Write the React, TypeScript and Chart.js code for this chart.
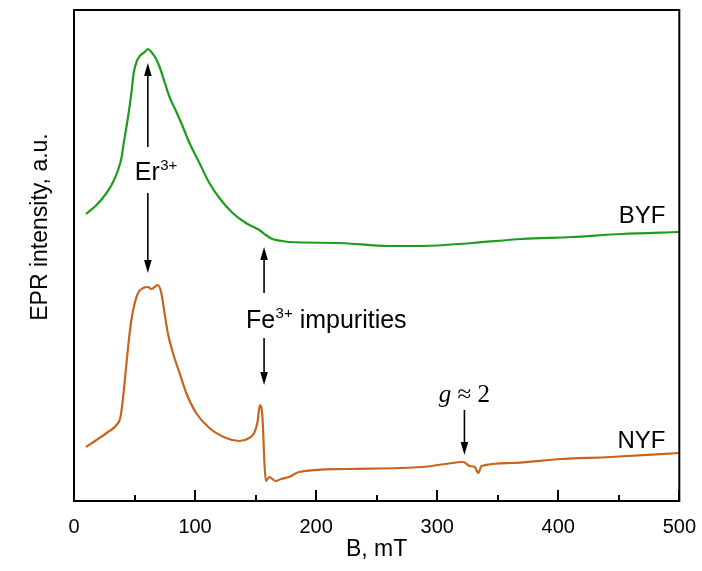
import React, { useEffect, useRef } from 'react';
import { Chart, registerables } from 'chart.js';

Chart.register(...registerables);

// ---- Data (B in mT, EPR intensity in arbitrary units) ----
const fieldBYF = [9.9, 18.6, 26.9, 32.3, 36.4, 39.2, 41.1, 43.3, 45.5, 47.4, 49.3, 51.6, 54.3, 58.4, 61.1, 63.9, 67.4, 70.7, 74.8, 78.9, 83.1, 88.6, 95.4, 103.6, 111.8, 120.1, 131, 142, 150, 153, 158.5, 163.9, 172.1, 177.6, 219, 260, 288, 329, 370, 411, 452, 500];
const intensityBYF = [287, 296, 308, 319, 331, 343, 358, 374, 391, 408, 428, 439, 445, 449, 452, 449, 443, 434, 419, 404, 393, 378, 358, 338, 318, 303, 288, 278, 273, 271, 266, 262, 260, 259, 258, 255, 255, 258, 262, 264, 267, 269];

const fieldNYF = [9.9, 18.6, 26.9, 35.1, 38.4, 40.6, 42.8, 44.7, 47.4, 50.2, 52.9, 57, 61.1, 63.9, 66.6, 69.3, 72.1, 74.8, 77.5, 81.7, 87.2, 92.7, 100.9, 111.8, 125.6, 136.5, 144.7, 148.8, 151.6, 153.5, 155.7, 157.3, 158.5, 161.2, 166.7, 171, 177.6, 185.9, 224.5, 287.5, 306.5, 321.5, 327, 331, 334, 336.5, 361, 402, 443, 500];
const intensityNYF = [54, 61, 68, 76, 84, 104, 131, 154, 181, 198, 208, 213, 214, 212, 214, 216, 208, 188, 168, 148, 128, 108, 88, 73, 63, 60, 63, 68, 79, 96, 83, 38, 20, 24, 20, 22, 24, 29, 32, 34, 37, 39, 35, 34, 28, 35, 38, 42, 44, 48];

const xMajorTicks = [0, 100, 200, 300, 400, 500];
const xMinorTicks = [50, 150, 250, 350, 450];

// Annotation arrows: x position (mT), tail and tip (a.u.)
const arrowX = [61, 61, 157, 157, 322.5];
const arrowFrom = [354, 308, 208, 163, 91];
const arrowTo = [438, 228, 254, 116, 46];

const SANS = '"Liberation Sans", Arial, sans-serif';
const SERIF = '"Liberation Serif", "Times New Roman", serif';
const GREEN = '#1e9c1e';
const ORANGE = '#c8641c';

const annotationPlugin = {
  id: 'eprAnnotations',
  afterDraw(chart: any) {
    const { ctx, chartArea } = chart;
    const xs = chart.scales.x;
    const ys = chart.scales.y;
    const X = (v: number) => xs.getPixelForValue(v);
    const Y = (v: number) => ys.getPixelForValue(v);
    ctx.save();

    // frame
    ctx.strokeStyle = '#000';
    ctx.lineWidth = 2;
    ctx.strokeRect(chartArea.left, chartArea.top, chartArea.right - chartArea.left, chartArea.bottom - chartArea.top);

    // inward tick marks
    ctx.beginPath();
    xMajorTicks.forEach((t) => {
      const px = Math.round(X(t));
      ctx.moveTo(px, chartArea.bottom);
      ctx.lineTo(px, chartArea.bottom - 11);
    });
    xMinorTicks.forEach((t) => {
      const px = Math.round(X(t));
      ctx.moveTo(px, chartArea.bottom);
      ctx.lineTo(px, chartArea.bottom - 6);
    });
    ctx.stroke();

    // arrows
    ctx.fillStyle = '#000';
    ctx.lineWidth = 1.6;
    arrowX.forEach((ax, i) => {
      const px = X(ax);
      const y1 = Y(arrowFrom[i]);
      const y2 = Y(arrowTo[i]);
      const dir = y2 > y1 ? 1 : -1;
      const head = 13;
      ctx.beginPath();
      ctx.moveTo(px, y1);
      ctx.lineTo(px, y2 - dir * head);
      ctx.stroke();
      ctx.beginPath();
      ctx.moveTo(px, y2);
      ctx.lineTo(px - 3.8, y2 - dir * head);
      ctx.lineTo(px + 3.8, y2 - dir * head);
      ctx.closePath();
      ctx.fill();
    });

    // texts
    ctx.fillStyle = '#000';
    ctx.textBaseline = 'alphabetic';
    ctx.textAlign = 'left';

    const drawSup = (base: string, sup: string, rest: string, x: number, y: number) => {
      ctx.font = `25px ${SANS}`;
      ctx.fillText(base, x, y);
      let w = ctx.measureText(base).width;
      ctx.font = `15px ${SANS}`;
      ctx.fillText(sup, x + w + 0.5, y - 10);
      w += ctx.measureText(sup).width + 0.5;
      if (rest) {
        ctx.font = `25px ${SANS}`;
        ctx.fillText(rest, x + w, y);
      }
    };
    drawSup('Er', '3+', '', X(50.2), Y(321));
    drawSup('Fe', '3+', ' impurities', X(142), Y(173));

    // g ≈ 2
    ctx.font = `italic 25px ${SERIF}`;
    const gw = ctx.measureText('g').width;
    ctx.font = `25px ${SERIF}`;
    const rw = ctx.measureText(' \u2248 2').width;
    const gx = X(322.5) - (gw + rw) / 2;
    ctx.font = `italic 25px ${SERIF}`;
    ctx.fillText('g', gx, Y(99));
    ctx.font = `25px ${SERIF}`;
    ctx.fillText(' \u2248 2', gx + gw, Y(99));

    // sample labels
    ctx.font = `24px ${SANS}`;
    ctx.textAlign = 'right';
    ctx.fillText('BYF', X(488.5), Y(278));
    ctx.fillText('NYF', X(488.5), Y(53));

    // y axis title
    ctx.save();
    ctx.translate(46.5, 227);
    ctx.rotate(-Math.PI / 2);
    ctx.textAlign = 'center';
    ctx.font = `23px ${SANS}`;
    ctx.fillText('EPR intensity, a.u.', 0, 0);
    ctx.restore();

    ctx.restore();
  },
};

export default function App() {
  const canvasRef = useRef<HTMLCanvasElement | null>(null);

  useEffect(() => {
    if (!canvasRef.current) return;
    const chart = new Chart(canvasRef.current, {
      type: 'line',
      data: {
        datasets: [
          {
            label: 'BYF',
            data: fieldBYF.map((x, i) => ({ x, y: intensityBYF[i] })),
            borderColor: GREEN,
            borderWidth: 2.2,
            pointRadius: 0,
            cubicInterpolationMode: 'monotone',
            fill: false,
          },
          {
            label: 'NYF',
            data: fieldNYF.map((x, i) => ({ x, y: intensityNYF[i] })),
            borderColor: ORANGE,
            borderWidth: 2.2,
            pointRadius: 0,
            cubicInterpolationMode: 'monotone',
            fill: false,
          },
        ],
      },
      options: {
        animation: false,
        responsive: false,
        events: [],
        layout: { padding: { left: 74, right: 20, top: 10, bottom: 0 } },
        plugins: { legend: { display: false }, tooltip: { enabled: false } },
        scales: {
          x: {
            type: 'linear',
            min: 0,
            max: 500,
            afterBuildTicks: (s: any) => {
              s.ticks = xMajorTicks.map((v) => ({ value: v }));
            },
            afterFit: (s: any) => {
              s.height = 70;
            },
            grid: { display: false },
            border: { display: false },
            ticks: {
              color: '#000',
              padding: 6,
              maxRotation: 0,
              font: { family: SANS, size: 20 },
            },
            title: {
              display: true,
              text: 'B, mT',
              color: '#000',
              font: { family: SANS, size: 23 },
              padding: { top: 0, bottom: 8 },
            },
          },
          y: { display: false, min: 0, max: 491 },
        },
      } as any,
      plugins: [annotationPlugin],
    });
    return () => chart.destroy();
  }, []);

  return (
    <div style={{ position: 'absolute', left: 0, top: 0, width: 702, height: 571, background: '#fff' }}>
      <canvas ref={canvasRef} width={702} height={571} style={{ width: 702, height: 571, display: 'block' }} />
    </div>
  );
}
